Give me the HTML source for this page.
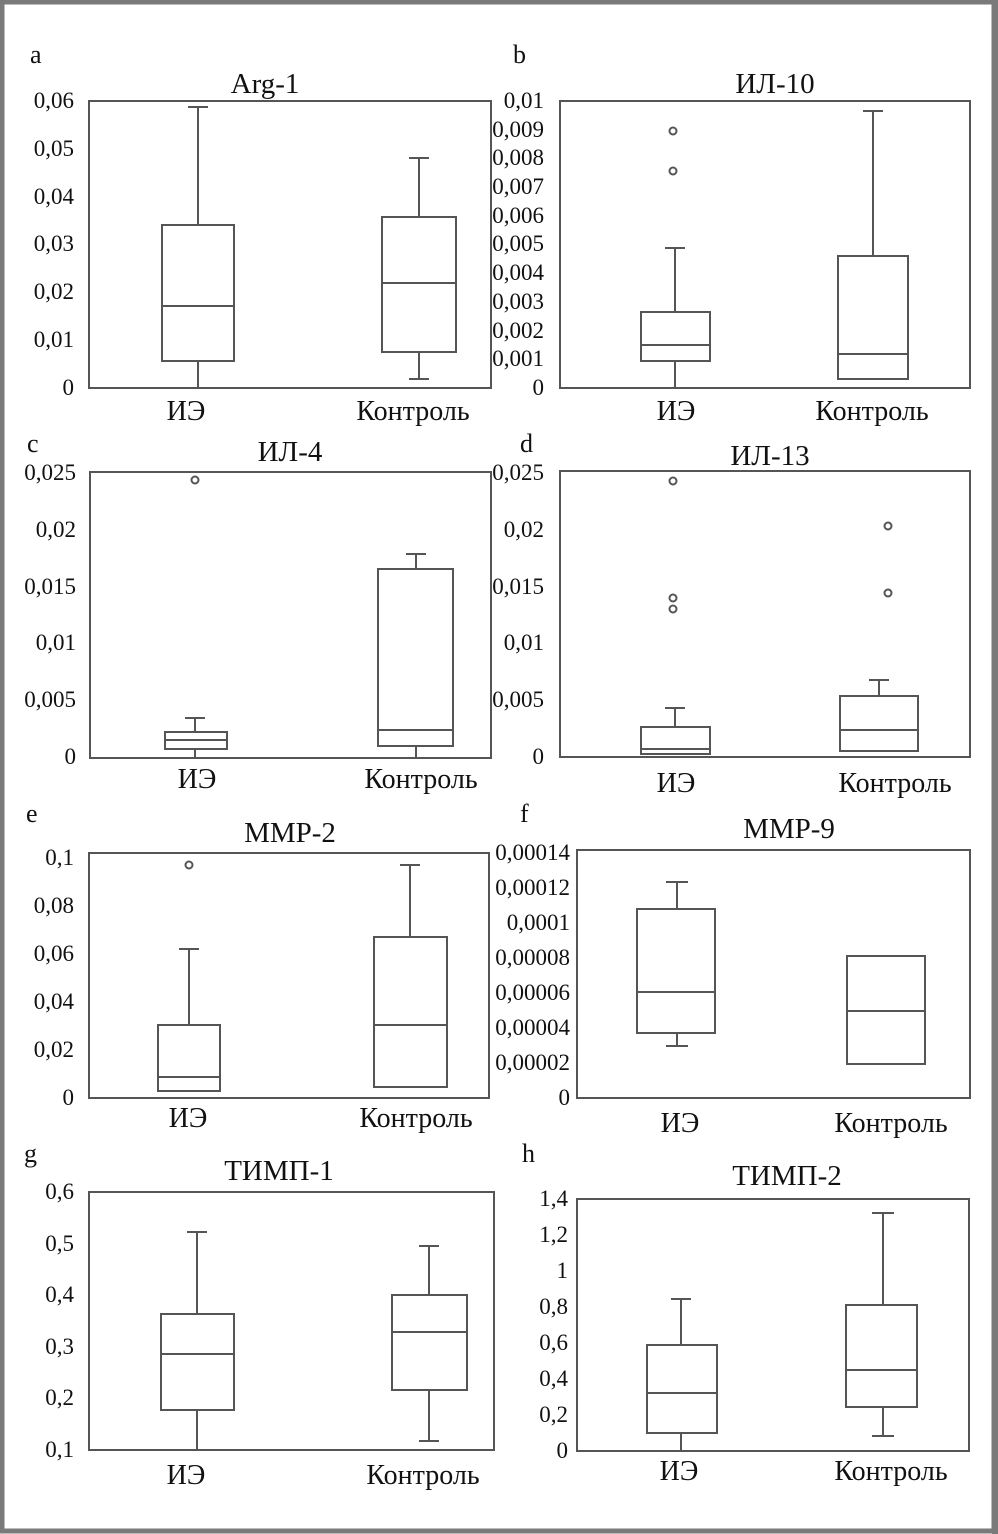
<!DOCTYPE html>
<html><head><meta charset="utf-8"><style>
html,body{margin:0;padding:0;background:#fff}
svg{display:block}
text{font-family:"Liberation Serif",serif;fill:#111}
.t{font-size:23px;text-anchor:end}
.x{font-size:28px;text-anchor:middle}
.ti{font-size:29px;text-anchor:middle}
.l{font-size:26px}
</style></head><body>
<svg width="998" height="1534" viewBox="0 0 998 1534">
<rect x="2" y="2" width="992" height="1529" fill="none" stroke="#7a7a7a" stroke-width="5"/>
<rect x="992" y="0" width="6" height="1534" fill="#7a7a7a"/>
<g fill="none" stroke="#555" stroke-width="2">
<!-- a -->
<rect x="89" y="101" width="402" height="287"/>
<rect x="162" y="225" width="72" height="136"/><line x1="162" y1="306" x2="234" y2="306"/>
<line x1="198" y1="107" x2="198" y2="225"/><line x1="188" y1="107" x2="208" y2="107"/><line x1="198" y1="361" x2="198" y2="388"/>
<rect x="382" y="217" width="74" height="135"/><line x1="382" y1="283" x2="456" y2="283"/>
<line x1="419" y1="158" x2="419" y2="217"/><line x1="409" y1="158" x2="429" y2="158"/><line x1="419" y1="352" x2="419" y2="379"/><line x1="409" y1="379" x2="429" y2="379"/>
<!-- b -->
<rect x="560" y="101" width="410" height="287"/>
<rect x="641" y="312" width="69" height="49"/><line x1="641" y1="345" x2="710" y2="345"/>
<line x1="675" y1="248" x2="675" y2="312"/><line x1="665" y1="248" x2="685" y2="248"/><line x1="675" y1="361" x2="675" y2="388"/>
<circle cx="673" cy="131" r="3.5"/><circle cx="673" cy="171" r="3.5"/>
<rect x="838" y="256" width="70" height="123"/><line x1="838" y1="354" x2="908" y2="354"/>
<line x1="873" y1="111" x2="873" y2="256"/><line x1="863" y1="111" x2="883" y2="111"/>
<!-- c -->
<rect x="90" y="472" width="401" height="286"/>
<rect x="165" y="732" width="62" height="17"/><line x1="165" y1="740" x2="227" y2="740"/>
<line x1="195" y1="718" x2="195" y2="732"/><line x1="185" y1="718" x2="205" y2="718"/><line x1="195" y1="749" x2="195" y2="758"/>
<circle cx="195" cy="480" r="3.5"/>
<rect x="378" y="569" width="75" height="177"/><line x1="378" y1="730" x2="453" y2="730"/>
<line x1="416" y1="554" x2="416" y2="569"/><line x1="406" y1="554" x2="426" y2="554"/><line x1="416" y1="746" x2="416" y2="758"/>
<!-- d -->
<rect x="560" y="471" width="410" height="286"/>
<rect x="641" y="727" width="69" height="27"/><line x1="641" y1="749" x2="710" y2="749"/>
<line x1="675" y1="708" x2="675" y2="727"/><line x1="665" y1="708" x2="685" y2="708"/>
<circle cx="673" cy="481" r="3.5"/><circle cx="673" cy="598" r="3.5"/><circle cx="673" cy="609" r="3.5"/>
<rect x="840" y="696" width="78" height="55"/><line x1="840" y1="730" x2="918" y2="730"/>
<line x1="879" y1="680" x2="879" y2="696"/><line x1="869" y1="680" x2="889" y2="680"/>
<circle cx="888" cy="526" r="3.5"/><circle cx="888" cy="593" r="3.5"/>
<!-- e -->
<rect x="89" y="853" width="400" height="245"/>
<rect x="158" y="1025" width="62" height="66"/><line x1="158" y1="1077" x2="220" y2="1077"/>
<line x1="189" y1="949" x2="189" y2="1025"/><line x1="179" y1="949" x2="199" y2="949"/>
<circle cx="189" cy="865" r="3.5"/>
<rect x="374" y="937" width="73" height="150"/><line x1="374" y1="1025" x2="447" y2="1025"/>
<line x1="410" y1="865" x2="410" y2="937"/><line x1="400" y1="865" x2="420" y2="865"/>
<!-- f -->
<rect x="577" y="850" width="393" height="248"/>
<rect x="637" y="909" width="78" height="124"/><line x1="637" y1="992" x2="715" y2="992"/>
<line x1="677" y1="882" x2="677" y2="909"/><line x1="666" y1="882" x2="688" y2="882"/>
<line x1="677" y1="1033" x2="677" y2="1046"/><line x1="666" y1="1046" x2="688" y2="1046"/>
<rect x="847" y="956" width="78" height="108"/><line x1="847" y1="1011" x2="925" y2="1011"/>
<!-- g -->
<rect x="89" y="1192" width="405" height="258"/>
<rect x="161" y="1314" width="73" height="96"/><line x1="161" y1="1354" x2="234" y2="1354"/>
<line x1="197" y1="1232" x2="197" y2="1314"/><line x1="187" y1="1232" x2="207" y2="1232"/><line x1="197" y1="1410" x2="197" y2="1450"/>
<rect x="392" y="1295" width="75" height="95"/><line x1="392" y1="1332" x2="467" y2="1332"/>
<line x1="429" y1="1246" x2="429" y2="1295"/><line x1="419" y1="1246" x2="439" y2="1246"/>
<line x1="429" y1="1390" x2="429" y2="1441"/><line x1="419" y1="1441" x2="439" y2="1441"/>
<!-- h -->
<rect x="577" y="1199" width="392" height="252"/>
<rect x="647" y="1345" width="70" height="88"/><line x1="647" y1="1393" x2="717" y2="1393"/>
<line x1="681" y1="1299" x2="681" y2="1345"/><line x1="671" y1="1299" x2="691" y2="1299"/><line x1="681" y1="1433" x2="681" y2="1451"/>
<rect x="846" y="1305" width="71" height="102"/><line x1="846" y1="1370" x2="917" y2="1370"/>
<line x1="883" y1="1213" x2="883" y2="1305"/><line x1="872" y1="1213" x2="894" y2="1213"/>
<line x1="883" y1="1407" x2="883" y2="1436"/><line x1="872" y1="1436" x2="894" y2="1436"/>
</g>
<!-- letters & titles -->
<text class="l" x="30" y="63">a</text><text class="ti" x="265" y="93">Arg-1</text>
<text class="l" x="513" y="63">b</text><text class="ti" x="775" y="93">ИЛ-10</text>
<text class="l" x="27" y="452">c</text><text class="ti" x="290" y="461">ИЛ-4</text>
<text class="l" x="520" y="452">d</text><text class="ti" x="770" y="465">ИЛ-13</text>
<text class="l" x="26" y="822">e</text><text class="ti" x="290" y="842">MMP-2</text>
<text class="l" x="520" y="822">f</text><text class="ti" x="789" y="838">MMP-9</text>
<text class="l" x="24" y="1162">g</text><text class="ti" x="279" y="1180">ТИМП-1</text>
<text class="l" x="522" y="1162">h</text><text class="ti" x="787" y="1185">ТИМП-2</text>
<!-- x labels -->
<text class="x" x="186" y="420">ИЭ</text><text class="x" x="413" y="420">Контроль</text>
<text class="x" x="676" y="420">ИЭ</text><text class="x" x="872" y="420">Контроль</text>
<text class="x" x="197" y="788">ИЭ</text><text class="x" x="421" y="788">Контроль</text>
<text class="x" x="676" y="792">ИЭ</text><text class="x" x="895" y="792">Контроль</text>
<text class="x" x="188" y="1127">ИЭ</text><text class="x" x="416" y="1127">Контроль</text>
<text class="x" x="680" y="1132">ИЭ</text><text class="x" x="891" y="1132">Контроль</text>
<text class="x" x="186" y="1484">ИЭ</text><text class="x" x="423" y="1484">Контроль</text>
<text class="x" x="679" y="1480">ИЭ</text><text class="x" x="891" y="1480">Контроль</text>
<!-- y ticks -->
<g>
<text class="t" x="74" y="108">0,06</text><text class="t" x="74" y="156">0,05</text><text class="t" x="74" y="204">0,04</text><text class="t" x="74" y="251">0,03</text><text class="t" x="74" y="299">0,02</text><text class="t" x="74" y="347">0,01</text><text class="t" x="74" y="395">0</text>
<text class="t" x="544" y="108">0,01</text><text class="t" x="544" y="137">0,009</text><text class="t" x="544" y="165">0,008</text><text class="t" x="544" y="194">0,007</text><text class="t" x="544" y="223">0,006</text><text class="t" x="544" y="251">0,005</text><text class="t" x="544" y="280">0,004</text><text class="t" x="544" y="309">0,003</text><text class="t" x="544" y="338">0,002</text><text class="t" x="544" y="366">0,001</text><text class="t" x="544" y="395">0</text>
<text class="t" x="76" y="480">0,025</text><text class="t" x="76" y="537">0,02</text><text class="t" x="76" y="594">0,015</text><text class="t" x="76" y="650">0,01</text><text class="t" x="76" y="707">0,005</text><text class="t" x="76" y="764">0</text>
<text class="t" x="544" y="480">0,025</text><text class="t" x="544" y="537">0,02</text><text class="t" x="544" y="594">0,015</text><text class="t" x="544" y="650">0,01</text><text class="t" x="544" y="707">0,005</text><text class="t" x="544" y="764">0</text>
<text class="t" x="74" y="865">0,1</text><text class="t" x="74" y="913">0,08</text><text class="t" x="74" y="961">0,06</text><text class="t" x="74" y="1009">0,04</text><text class="t" x="74" y="1057">0,02</text><text class="t" x="74" y="1105">0</text>
<text class="t" x="570" y="860">0,00014</text><text class="t" x="570" y="895">0,00012</text><text class="t" x="570" y="930">0,0001</text><text class="t" x="570" y="965">0,00008</text><text class="t" x="570" y="1000">0,00006</text><text class="t" x="570" y="1035">0,00004</text><text class="t" x="570" y="1070">0,00002</text><text class="t" x="570" y="1105">0</text>
<text class="t" x="74" y="1199">0,6</text><text class="t" x="74" y="1251">0,5</text><text class="t" x="74" y="1302">0,4</text><text class="t" x="74" y="1354">0,3</text><text class="t" x="74" y="1405">0,2</text><text class="t" x="74" y="1457">0,1</text>
<text class="t" x="568" y="1206">1,4</text><text class="t" x="568" y="1242">1,2</text><text class="t" x="568" y="1278">1</text><text class="t" x="568" y="1314">0,8</text><text class="t" x="568" y="1350">0,6</text><text class="t" x="568" y="1386">0,4</text><text class="t" x="568" y="1422">0,2</text><text class="t" x="568" y="1458">0</text>
</g>
</svg>
</body></html>
